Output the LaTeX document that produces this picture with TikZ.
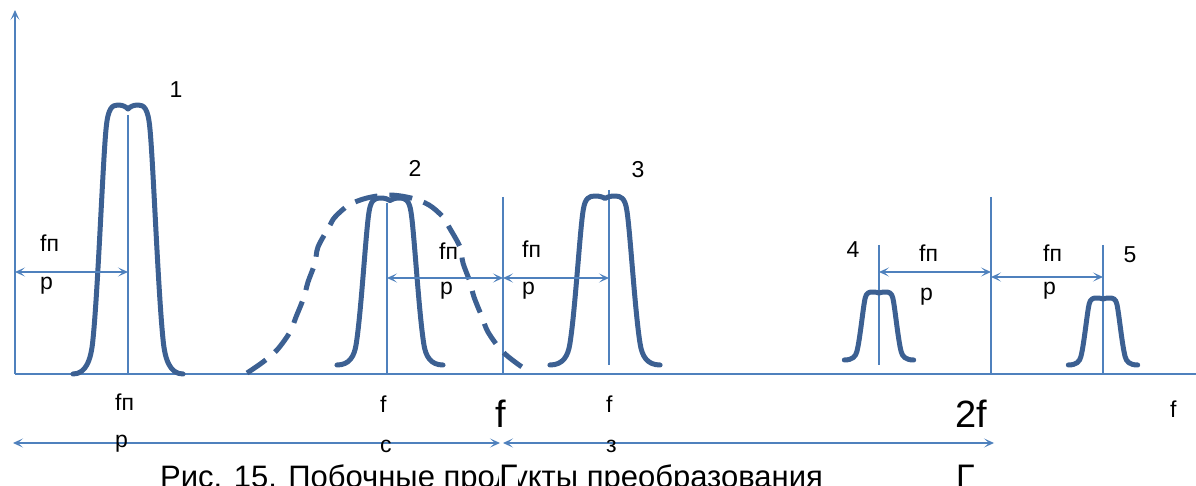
\documentclass[tikz,border=0pt]{standalone}
\usepackage{fontspec}
\setmainfont{Liberation Sans}
\usetikzlibrary{arrows.meta}
\definecolor{thinblue}{RGB}{79,129,189}
\definecolor{thickblue}{RGB}{60,96,146}
\tikzset{
  thinline/.style={draw=thinblue, line width=1.8pt},
  dimarrow/.style={thinline, {Stealth[length=10pt,width=9pt,inset=5pt]}-{Stealth[length=10pt,width=9pt,inset=5pt]}},
  pulseline/.style={draw=thickblue, line width=5pt, line cap=round, line join=round},
  lbl/.style={font=\fontsize{23}{27}\selectfont, inner sep=0pt, anchor=base west},
  numlbl/.style={font=\fontsize{23}{27}\selectfont, inner sep=0pt, anchor=base},
  biglbl/.style={font=\fontsize{38}{44}\selectfont, inner sep=0pt, anchor=base},
  glbl/.style={font=\fontsize{34}{40}\selectfont, inner sep=0pt, anchor=base west},
  caplbl/.style={font=\fontsize{31}{36}\selectfont, inner sep=0pt, anchor=base west},
}
% #1 centre x, #2 foot y (px from top), #3 top y (px from top), #4 half width
\newcommand{\drawpulse}[4]{%
  \begin{scope}[shift={(#1,485-#2)}, xscale=#4, yscale={#2-#3}]
    \draw[pulseline] (-2.04,0) .. controls (-1.56,0) and (-1.37,0.052) .. (-1.30,0.126)
      .. controls (-1.11,0.312) and (-0.93,0.796) .. (-0.81,0.914)
      .. controls (-0.74,0.989) and (-0.59,1) .. (-0.37,1)
      .. controls (-0.19,1) and (-0.07,0.993) .. (0,0.985)
      .. controls (0.07,0.993) and (0.19,1) .. (0.37,1)
      .. controls (0.59,1) and (0.74,0.989) .. (0.81,0.914)
      .. controls (0.93,0.796) and (1.11,0.312) .. (1.30,0.126)
      .. controls (1.37,0.052) and (1.56,0) .. (2.04,0);
  \end{scope}}
\begin{document}
\begin{tikzpicture}[x=1pt,y=1pt]
\useasboundingbox (0,0) rectangle (1196,485);
% axes
\coordinate (o) at (15,111);
\coordinate (ytop) at (15,475);
\coordinate (xend) at (1196,111);
\draw[thinline, -{Stealth[length=10pt,width=9pt,inset=5pt]}] (o) -- (ytop);
\draw[thinline] (o) -- (xend);
% vertical marker lines
\coordinate (v1t) at (128,370); \coordinate (v1b) at (128,111);
\coordinate (v2t) at (387,282); \coordinate (v2b) at (387,111);
\coordinate (v3t) at (503,288); \coordinate (v3b) at (503,111);
\coordinate (v4t) at (609,295); \coordinate (v4b) at (609,120);
\coordinate (v5t) at (879,240); \coordinate (v5b) at (879,120);
\coordinate (v6t) at (991,288); \coordinate (v6b) at (991,111);
\coordinate (v7t) at (1103,240); \coordinate (v7b) at (1103,111);
\foreach \i in {1,...,7} \draw[thinline] (v\i t) -- (v\i b);
% dashed envelope (centre x = 389)
\draw[pulseline, line cap=butt, dash pattern=on 23pt off 12pt]
  plot[smooth, tension=0.55] coordinates {
   (247,112) (263,123) (277,135) (290,153) (296,168) (304,188) (308,203) (315,222) (318,238)
   (329,258) (335,268) (349,280) (367,287) (389,290)
   (411,287) (429,280) (443,268) (449,258) (460,238) (463,222) (470,203) (474,188)
   (482,168) (488,153) (501,135) (515,123) (531,112)};
% pulses
\drawpulse{128}{374}{105}{27}
\drawpulse{390}{365}{198}{26}
\drawpulse{605}{365}{196}{27}
\drawpulse{879}{360}{292}{17}
\drawpulse{1103}{365}{298}{17}
% dimension arrows
\coordinate (a1l) at (15,213);  \coordinate (a1r) at (128,213);
\coordinate (a2l) at (387,207); \coordinate (a2r) at (503,207);
\coordinate (a3l) at (503,207); \coordinate (a3r) at (609,207);
\coordinate (a4l) at (879,213); \coordinate (a4r) at (991,213);
\coordinate (a5l) at (991,208); \coordinate (a5r) at (1103,208);
\coordinate (b1l) at (13,42);   \coordinate (b1r) at (500,42);
\coordinate (b2l) at (503,42);  \coordinate (b2r) at (994,42);
\foreach \n in {a1,a2,a3,a4,a5,b1,b2} \draw[dimarrow] (\n l) -- (\n r);
% labels
\node[numlbl] (n1) at (176,387) {1};
\node[numlbl] (n2) at (415,308) {2};
\node[numlbl] (n3) at (638,307) {3};
\node[numlbl] (n4) at (853,227) {4};
\node[numlbl] (n5) at (1130,222) {5};
\node[lbl] (fa1) at (40,233) {fп};   \node[lbl] (pa1) at (40,196) {p};
\node[lbl] (fa2) at (439,225) {fп};  \node[lbl] (pa2) at (440,190) {p};
\node[lbl] (fa3) at (522,227) {fп};  \node[lbl] (pa3) at (522,190) {p};
\node[lbl] (fa4) at (919,223) {fп};  \node[lbl] (pa4) at (920,185) {p};
\node[lbl] (fa5) at (1043,223) {fп}; \node[lbl] (pa5) at (1043,190) {p};
% bottom labels
\node[lbl] (fb1) at (115,75) {fп}; \node[lbl] (pb1) at (115,38) {p};
\node[lbl] (fb2) at (380,73) {f};  \node[lbl] (cb2) at (380,33) {с};
\node[lbl] (fb3) at (606,73) {f};  \node[lbl] (zb3) at (606,33) {з};
\node[lbl] (fb4) at (1170,68) {f};
\node[caplbl] (cap) at (160,-2) {Рис. 15. Побочные продукты преобразования};
\node[biglbl] (fbig) at (501,58) {f};
\node[glbl, fill=white] (gbig) at (499,-3) {Г};
\node[biglbl] (f2) at (971,58) {2f};
\node[glbl] (g2) at (956,-3) {Г};
\end{tikzpicture}
\end{document}
